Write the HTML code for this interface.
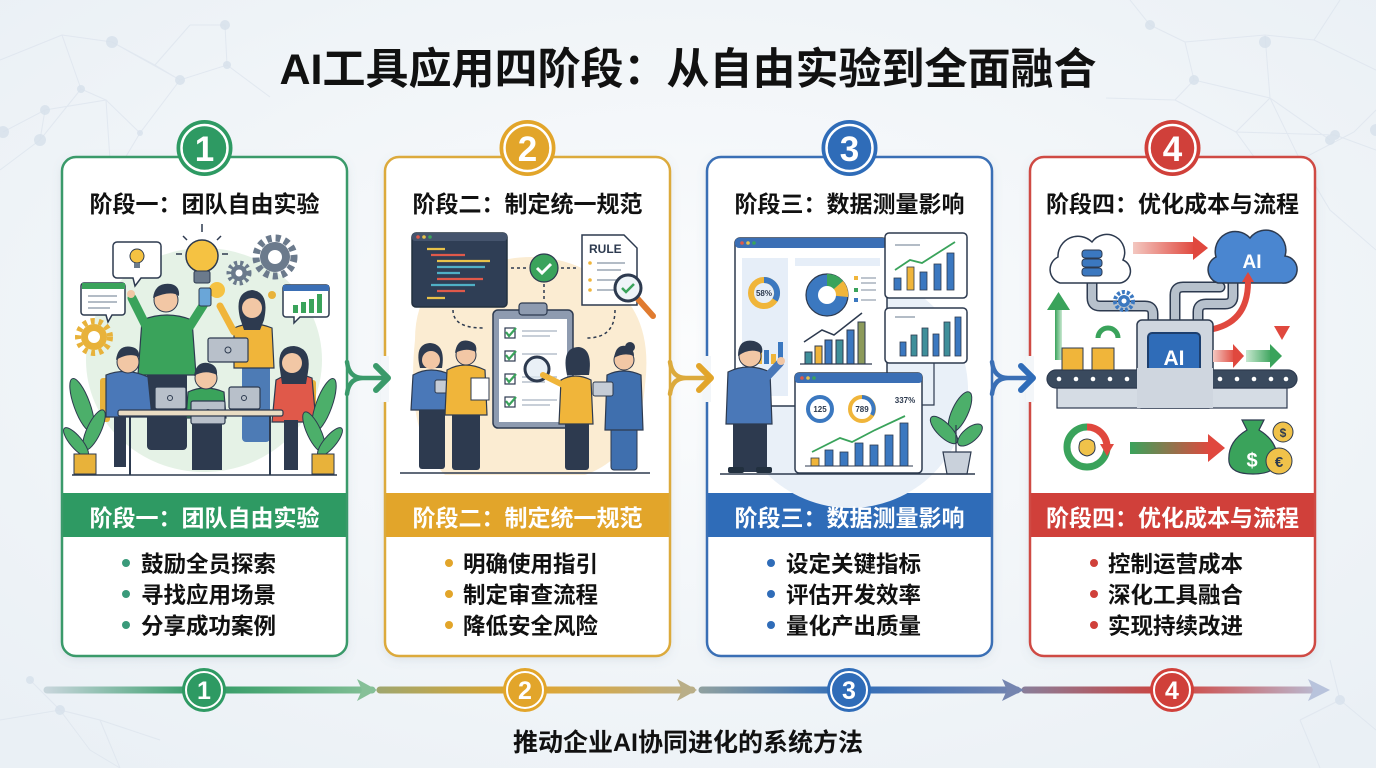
<!DOCTYPE html>
<html><head><meta charset="utf-8"><style>
html,body{margin:0;padding:0;width:1376px;height:768px;overflow:hidden;background:#f3f6f9;}
svg{display:block}
text{font-family:"Liberation Sans","Noto Sans CJK SC",sans-serif;font-weight:700;}
</style></head><body>
<svg width="1376" height="768" viewBox="0 0 1376 768" xmlns="http://www.w3.org/2000/svg">
<defs>
<radialGradient id="bg" cx="50%" cy="45%" r="70%"><stop offset="0" stop-color="#fbfcfd"/><stop offset="1" stop-color="#eaf0f5"/></radialGradient>
<filter id="sh" x="-10%" y="-10%" width="120%" height="120%"><feDropShadow dx="0" dy="3" stdDeviation="5" flood-color="#6a7f95" flood-opacity="0.18"/></filter>
<linearGradient id="tA" gradientUnits="userSpaceOnUse" x1="47" y1="0" x2="377" y2="0"><stop offset="0" stop-color="#c7d5db"/><stop offset="0.47" stop-color="#2e9a63"/><stop offset="1" stop-color="#86c098"/></linearGradient>
<linearGradient id="tB" gradientUnits="userSpaceOnUse" x1="378" y1="0" x2="697" y2="0"><stop offset="0" stop-color="#9fa66e"/><stop offset="0.46" stop-color="#e2a52a"/><stop offset="1" stop-color="#b9ae88"/></linearGradient>
<linearGradient id="tC" gradientUnits="userSpaceOnUse" x1="700" y1="0" x2="1022" y2="0"><stop offset="0" stop-color="#8fa0a0"/><stop offset="0.46" stop-color="#2f6cb8"/><stop offset="1" stop-color="#7585b0"/></linearGradient>
<linearGradient id="tD" gradientUnits="userSpaceOnUse" x1="1025" y1="0" x2="1328" y2="0"><stop offset="0" stop-color="#8a7d98"/><stop offset="0.48" stop-color="#d0403a"/><stop offset="1" stop-color="#b8c3dc"/></linearGradient>
<linearGradient id="rg" x1="0" y1="0" x2="1" y2="0"><stop offset="0" stop-color="#f3c7c0"/><stop offset="1" stop-color="#e0483e"/></linearGradient>
<linearGradient id="gr" x1="0" y1="0" x2="1" y2="0"><stop offset="0" stop-color="#c8e8d0"/><stop offset="1" stop-color="#3aa35b"/></linearGradient>
<linearGradient id="gred" x1="0" y1="0" x2="1" y2="0"><stop offset="0" stop-color="#3aa35b"/><stop offset="1" stop-color="#e0483e"/></linearGradient>
</defs>
<rect width="1376" height="768" fill="url(#bg)"/>

<!-- network background -->
<g stroke="#dbe3ec" stroke-width="1" fill="none" opacity="0.7">
<path d="M0 60 L62 35 L112 42 L180 80 L227 65 L270 97 M62 35 L81 89 L106 100 L45 110 L3 132 M112 42 L155 65 L180 80 M106 100 L140 133 M45 110 L40 140 L0 170 M81 89 L40 140 M180 80 L140 133 M190 25 L225 25 L227 65 M155 65 L190 25 M106 100 L110 160 M140 133 L100 200"/>
<path d="M1150 25 L1185 42 L1265 35 L1314 40 L1376 70 M1185 42 L1194 80 L1175 100 L1106 98 M1194 80 L1270 98 L1330 140 M1265 35 L1270 98 L1300 160 L1354 132 L1376 110 M1270 98 L1236 132 L1335 135 M1175 100 L1236 132 L1260 165 M1300 160 L1330 210 L1376 250 M1335 135 L1376 150 M1150 25 L1130 0 M1314 40 L1340 0"/>
<path d="M0 720 L60 710 L90 750 L120 768 M60 710 L30 680 M60 710 L100 720 L160 740 M100 720 L120 768 M1300 720 L1340 700 L1376 730 M1340 700 L1330 660 M1300 720 L1320 768"/>
</g>
<g fill="#d8e2ec" opacity="0.85">
<circle cx="112" cy="42" r="6"/><circle cx="180" cy="80" r="5"/><circle cx="227" cy="65" r="4"/><circle cx="45" cy="110" r="5"/><circle cx="40" cy="140" r="6"/><circle cx="3" cy="132" r="6"/><circle cx="81" cy="89" r="4"/><circle cx="225" cy="25" r="5"/><circle cx="140" cy="133" r="3"/>
<circle cx="1150" cy="25" r="5"/><circle cx="1265" cy="42" r="6"/><circle cx="1194" cy="80" r="5"/><circle cx="1330" cy="140" r="5"/><circle cx="1335" cy="135" r="5"/><circle cx="1376" cy="130" r="6"/><circle cx="1300" cy="160" r="3"/>
<circle cx="60" cy="710" r="5"/><circle cx="30" cy="680" r="4"/><circle cx="1340" cy="700" r="5"/>
</g>

<!-- Title -->
<text x="688" y="84" text-anchor="middle" font-size="43" font-weight="900" fill="#111">AI工具应用四阶段：从自由实验到全面融合</text>

<!-- Cards -->
<g filter="url(#sh)">
<rect x="62" y="157" width="285" height="499" rx="14" fill="#fff"/>
<rect x="385" y="157" width="285" height="499" rx="14" fill="#fff"/>
<rect x="707" y="157" width="285" height="499" rx="14" fill="#fff"/>
<rect x="1030" y="157" width="285" height="499" rx="14" fill="#fff"/>
</g>
<!-- bands -->
<rect x="62" y="493" width="285" height="44" fill="#2e9a63"/>
<rect x="385" y="493" width="285" height="44" fill="#e2a52a"/>
<rect x="707" y="493" width="285" height="44" fill="#2f6cb8"/>
<rect x="1030" y="493" width="285" height="44" fill="#d0403a"/>
<!-- borders -->
<g fill="none" stroke-width="2.5">
<rect x="62" y="157" width="285" height="499" rx="14" stroke="#3a9a6a"/>
<rect x="385" y="157" width="285" height="499" rx="14" stroke="#dcaa3c"/>
<rect x="707" y="157" width="285" height="499" rx="14" stroke="#3a6fb5"/>
<rect x="1030" y="157" width="285" height="499" rx="14" stroke="#cf4a44"/>
</g>

<!-- ===== Card 1 illustration ===== -->
<g transform="translate(62,220)">
<ellipse cx="142" cy="140" rx="118" ry="112" fill="#e5f2e6"/>
<path d="M55 22 h40 a4 4 0 0 1 4 4 v28 a4 4 0 0 1 -4 4 h-16 l-6 8 l-2 -8 h-16 a4 4 0 0 1 -4 -4 v-28 a4 4 0 0 1 4 -4z" fill="#fff" stroke="#2d3a4f" stroke-width="1.5"/>
<circle cx="75" cy="36" r="7" fill="#f5c242" stroke="#2d3a4f" stroke-width="1"/><rect x="72" y="43" width="6" height="5" fill="#6b7a8c"/>
<circle cx="140" cy="36" r="16" fill="#f5c242" stroke="#2d3a4f" stroke-width="1.5"/>
<rect x="132" y="51" width="16" height="12" rx="2" fill="#6b7a8c" stroke="#2d3a4f" stroke-width="1"/>
<g stroke="#2d3a4f" stroke-width="1.5"><line x1="140" y1="4" x2="140" y2="12"/><line x1="114" y1="34" x2="120" y2="34"/><line x1="160" y1="34" x2="166" y2="34"/><line x1="121" y1="16" x2="125" y2="20"/><line x1="159" y1="16" x2="155" y2="20"/></g>
<circle cx="213" cy="37" r="19" fill="none" stroke="#6b7a8c" stroke-width="7" stroke-dasharray="5 4"/>
<circle cx="213" cy="37" r="15" fill="#6b7a8c"/><circle cx="213" cy="37" r="7" fill="#fff"/>
<circle cx="177" cy="53" r="10" fill="none" stroke="#6b7a8c" stroke-width="5" stroke-dasharray="3 3"/><circle cx="177" cy="53" r="8" fill="#6b7a8c"/><circle cx="177" cy="53" r="3.5" fill="#fff"/>
<circle cx="32" cy="117" r="16" fill="none" stroke="#e8b23a" stroke-width="6" stroke-dasharray="4 4"/><circle cx="32" cy="117" r="13" fill="#e8b23a"/><circle cx="32" cy="117" r="6" fill="#fff"/>
<circle cx="155" cy="70" r="8" fill="#f5c242"/>
<circle cx="210" cy="75" r="4" fill="#e8b23a"/>
<path d="M22 63 h38 a3 3 0 0 1 3 3 v26 a3 3 0 0 1 -3 3 h-10 l-4 7 l-2 -7 h-22 a3 3 0 0 1 -3 -3 v-26 a3 3 0 0 1 3 -3z" fill="#fff" stroke="#2d3a4f" stroke-width="1.5"/>
<rect x="20" y="63" width="43" height="6" fill="#3aa35b"/>
<g stroke="#9aa6b4" stroke-width="1.5"><line x1="26" y1="76" x2="55" y2="76"/><line x1="26" y1="82" x2="55" y2="82"/><line x1="26" y1="88" x2="48" y2="88"/></g>
<path d="M224 65 h40 a3 3 0 0 1 3 3 v26 a3 3 0 0 1 -3 3 h-26 l-6 6 v-6 h-8 a3 3 0 0 1 -3 -3 v-26 a3 3 0 0 1 3 -3z" fill="#fff" stroke="#2d3a4f" stroke-width="1.5"/>
<rect x="221" y="65" width="46" height="6" fill="#3b6fb5"/>
<g fill="#3aa35b"><rect x="231" y="85" width="5" height="8"/><rect x="239" y="82" width="5" height="11"/><rect x="247" y="79" width="5" height="14"/><rect x="255" y="74" width="5" height="19"/></g>
<rect x="85" y="150" width="40" height="80" rx="4" fill="#2d3a4f"/>
<path d="M80 100 q25 -10 50 0 l4 55 h-58z" fill="#3aa35b" stroke="#2d3a4f" stroke-width="1.2"/>
<path d="M84 106 L70 78" stroke="#3aa35b" stroke-width="9" stroke-linecap="round"/>
<circle cx="69" cy="74" r="4" fill="#f2c7a5"/>
<path d="M128 106 L142 84" stroke="#3aa35b" stroke-width="9" stroke-linecap="round"/>
<rect x="137" y="68" width="12" height="18" rx="2" fill="#6aa6d8" stroke="#2d3a4f" stroke-width="1"/>
<circle cx="104" cy="80" r="12" fill="#f2c7a5" stroke="#2d3a4f" stroke-width="1"/>
<path d="M91 78 q2 -16 18 -14 q9 2 8 12 q-8 -6 -26 2z" fill="#2d3a4f"/>
<rect x="180" y="140" width="28" height="82" rx="4" fill="#4d7bb5"/>
<path d="M172 108 q18 -8 38 0 l2 40 h-40z" fill="#f0b53a" stroke="#2d3a4f" stroke-width="1.2"/>
<path d="M178 98 q-6 -26 12 -28 q18 2 12 30 l-4 10 h-16z" fill="#2d3a4f"/>
<circle cx="190" cy="88" r="10" fill="#f2c7a5"/>
<path d="M172 112 L158 86" stroke="#f0b53a" stroke-width="7" stroke-linecap="round"/>
<rect x="146" y="118" width="40" height="24" rx="2" fill="#b8c0ca" stroke="#2d3a4f" stroke-width="1.2"/>
<circle cx="166" cy="130" r="3" fill="none" stroke="#2d3a4f"/>
<rect x="38" y="158" width="10" height="44" rx="3" fill="#e8b23a"/>
<rect x="244" y="160" width="10" height="44" rx="3" fill="#e8b23a"/>
<path d="M44 155 q20 -8 42 2 l4 40 h-46z" fill="#4a78b8" stroke="#2d3a4f" stroke-width="1.2"/>
<circle cx="66" cy="142" r="11" fill="#f2c7a5" stroke="#2d3a4f" stroke-width="1"/>
<path d="M54 140 q2 -16 16 -13 q8 2 7 10 q-10 -5 -23 3z" fill="#2d3a4f"/>
<path d="M214 160 q16 -10 36 -2 l4 44 h-44z" fill="#e0594a" stroke="#2d3a4f" stroke-width="1.2"/>
<path d="M218 150 q-4 -24 14 -24 q18 2 14 26 l-2 12 h-24z" fill="#2d3a4f"/>
<circle cx="230" cy="143" r="10" fill="#f2c7a5"/>
<path d="M126 172 q17 -8 36 0 l2 26 h-40z" fill="#3aa35b" stroke="#2d3a4f" stroke-width="1.2"/>
<circle cx="144" cy="158" r="11" fill="#f2c7a5" stroke="#2d3a4f" stroke-width="1"/>
<path d="M132 156 q2 -15 14 -13 q10 2 9 12 q-12 -6 -23 1z" fill="#2d3a4f"/>
<g fill="#b8c0ca" stroke="#2d3a4f" stroke-width="1.2">
<rect x="93" y="167" width="31" height="22" rx="2"/><rect x="167" y="167" width="31" height="22" rx="2"/><rect x="129" y="181" width="34" height="23" rx="2"/>
</g>
<g fill="none" stroke="#2d3a4f"><circle cx="108" cy="178" r="2.5"/><circle cx="182" cy="178" r="2.5"/><circle cx="146" cy="192" r="2.5"/></g>
<rect x="56" y="190" width="165" height="6" rx="2" fill="#e9dcc3" stroke="#2d3a4f" stroke-width="1.2"/>
<g stroke="#2d3a4f" stroke-width="2"><line x1="68" y1="196" x2="68" y2="255"/><line x1="208" y1="196" x2="208" y2="255"/></g>
<rect x="52" y="197" width="12" height="50" fill="#2d3a4f"/><rect x="130" y="204" width="30" height="46" fill="#2d3a4f"/><rect x="222" y="200" width="14" height="50" fill="#2d3a4f"/>
<g fill="#4caf6a" stroke="#2d3a4f" stroke-width="1">
<ellipse cx="20" cy="185" rx="8" ry="28" transform="rotate(-20 20 185)"/><ellipse cx="32" cy="210" rx="7" ry="22" transform="rotate(25 32 210)"/><ellipse cx="14" cy="222" rx="6" ry="18" transform="rotate(-40 14 222)"/>
<ellipse cx="262" cy="185" rx="8" ry="28" transform="rotate(20 262 185)"/><ellipse cx="252" cy="212" rx="7" ry="22" transform="rotate(-25 252 212)"/><ellipse cx="268" cy="222" rx="6" ry="18" transform="rotate(40 268 222)"/>
</g>
<rect x="12" y="234" width="22" height="20" fill="#e8b23a" stroke="#2d3a4f" stroke-width="1"/>
<rect x="250" y="234" width="22" height="20" fill="#e8b23a" stroke="#2d3a4f" stroke-width="1"/>
<line x1="10" y1="255" x2="275" y2="255" stroke="#2d3a4f" stroke-width="1.5"/>
</g>

<!-- ===== Card 2 illustration ===== -->
<g transform="translate(385,220)">
<path d="M30 120 q0 -70 70 -75 q60 -20 110 10 q60 30 50 110 q-5 70 -60 90 h-140 q-40 -40 -30 -135z" fill="#fbecd2"/>
<rect x="27" y="13" width="95" height="74" rx="4" fill="#2f3e55" stroke="#22303f" stroke-width="1.5"/>
<rect x="27" y="13" width="95" height="8" rx="3" fill="#45546d"/>
<circle cx="33" cy="17" r="1.8" fill="#e0594a"/><circle cx="39" cy="17" r="1.8" fill="#e8c24a"/><circle cx="45" cy="17" r="1.8" fill="#3aa35b"/>
<g stroke-width="2.2">
<line x1="42" y1="29" x2="60" y2="29" stroke="#e8c24a"/><line x1="46" y1="35" x2="80" y2="35" stroke="#e0594a"/><line x1="52" y1="41" x2="105" y2="41" stroke="#e8c24a"/><line x1="52" y1="47" x2="100" y2="47" stroke="#4fb0c6"/><line x1="52" y1="53" x2="75" y2="53" stroke="#4fb0c6"/><line x1="52" y1="59" x2="98" y2="59" stroke="#e0594a"/><line x1="46" y1="65" x2="90" y2="65" stroke="#4fb0c6"/><line x1="52" y1="71" x2="80" y2="71" stroke="#e0594a"/><line x1="42" y1="78" x2="60" y2="78" stroke="#e8c24a"/>
</g>
<g stroke="#2d3a4f" stroke-width="1.5" fill="none" stroke-dasharray="3 3">
<line x1="126" y1="48" x2="142" y2="48"/><line x1="176" y1="48" x2="191" y2="48"/><line x1="159" y1="64" x2="159" y2="80"/>
<path d="M68 90 q0 18 30 18"/><path d="M230 90 q0 28 -28 28"/>
</g>
<circle cx="159" cy="48" r="14" fill="#3aa35b" stroke="#2d3a4f" stroke-width="1.2"/>
<path d="M152 48 l5 5 l9 -9" stroke="#fff" stroke-width="3" fill="none"/>
<path d="M197 15 h42 l13 13 v57 h-55z" fill="#fff" stroke="#2d3a4f" stroke-width="1.5"/>
<text x="204" y="33" font-size="12" fill="#2d3a4f">RULE</text>
<g stroke="#9aa6b4" stroke-width="1.5"><line x1="212" y1="43" x2="240" y2="43"/><line x1="212" y1="50" x2="236" y2="50"/><line x1="212" y1="60" x2="232" y2="60"/><line x1="212" y1="70" x2="230" y2="70"/></g>
<g fill="#f0b53a"><circle cx="205" cy="43" r="1.8"/><circle cx="205" cy="60" r="1.8"/><circle cx="205" cy="70" r="1.8"/></g>
<line x1="252" y1="78" x2="268" y2="96" stroke="#e07b30" stroke-width="6" stroke-linecap="round"/>
<circle cx="243" cy="68" r="13" fill="#eef4f8" stroke="#2d3a4f" stroke-width="3"/>
<path d="M237 68 l4 4 l8 -8" stroke="#3aa35b" stroke-width="2.5" fill="none"/>
<rect x="108" y="90" width="80" height="118" rx="5" fill="#8e9bb0" stroke="#2d3a4f" stroke-width="1.5"/>
<rect x="114" y="99" width="68" height="103" fill="#fff"/>
<rect x="134" y="83" width="28" height="12" rx="3" fill="#8e9bb0" stroke="#2d3a4f" stroke-width="1.2"/>
<g fill="#fff" stroke="#2d3a4f" stroke-width="1.2"><rect x="120" y="108" width="10" height="10"/><rect x="120" y="131" width="10" height="10"/><rect x="120" y="154" width="10" height="10"/><rect x="120" y="177" width="10" height="10"/></g>
<g stroke="#3aa35b" stroke-width="2.2" fill="none"><path d="M121 112 l3 4 l7 -8"/><path d="M121 135 l3 4 l7 -8"/><path d="M121 158 l3 4 l7 -8"/><path d="M121 181 l3 4 l7 -8"/></g>
<g stroke="#b5bfcb" stroke-width="1.5"><line x1="137" y1="111" x2="172" y2="111"/><line x1="137" y1="116" x2="165" y2="116"/><line x1="137" y1="134" x2="172" y2="134"/><line x1="137" y1="157" x2="172" y2="157"/><line x1="137" y1="162" x2="160" y2="162"/><line x1="137" y1="180" x2="172" y2="180"/><line x1="137" y1="185" x2="165" y2="185"/></g>
<circle cx="152" cy="149" r="12" fill="#dfe9f2" fill-opacity="0.7" stroke="#2d3a4f" stroke-width="3"/>
<rect x="34" y="185" width="26" height="64" rx="3" fill="#2d3a4f"/>
<path d="M28 155 q18 -10 38 0 l2 35 h-42z" fill="#4a78b8" stroke="#2d3a4f" stroke-width="1.2"/>
<path d="M35 148 q-6 -24 10 -25 q16 1 12 25z" fill="#2d3a4f"/><circle cx="46" cy="140" r="9" fill="#f2c7a5"/>
<rect x="50" y="160" width="18" height="13" rx="2" fill="#c5ccd6" stroke="#2d3a4f" stroke-width="1"/>
<rect x="67" y="190" width="28" height="60" rx="3" fill="#2d3a4f"/>
<path d="M62 150 q18 -10 38 0 l2 45 h-42z" fill="#f0b53a" stroke="#2d3a4f" stroke-width="1.2"/>
<circle cx="81" cy="135" r="10" fill="#f2c7a5" stroke="#2d3a4f" stroke-width="1"/>
<path d="M70 133 q2 -15 14 -12 q9 2 7 11 q-10 -5 -21 1z" fill="#2d3a4f"/>
<rect x="86" y="158" width="18" height="22" fill="#fff" stroke="#2d3a4f" stroke-width="1"/>
<rect x="180" y="200" width="24" height="50" rx="3" fill="#2d3a4f"/>
<path d="M176 160 q14 -8 30 0 l2 44 h-34z" fill="#f0b53a" stroke="#2d3a4f" stroke-width="1.2"/>
<path d="M182 155 q-6 -28 12 -28 q14 2 10 28z" fill="#2d3a4f"/>
<path d="M178 165 L158 155" stroke="#f0b53a" stroke-width="6" stroke-linecap="round"/>
<rect x="226" y="205" width="26" height="45" rx="3" fill="#3f6fae" stroke="#2d3a4f" stroke-width="1"/>
<path d="M222 155 q16 -8 34 0 l2 55 h-38z" fill="#3f6fae" stroke="#2d3a4f" stroke-width="1.2"/>
<circle cx="239" cy="140" r="10" fill="#f2c7a5" stroke="#2d3a4f" stroke-width="1"/>
<path d="M229 138 q2 -14 12 -12 q8 2 8 10 q-10 -4 -20 2z" fill="#2d3a4f"/><circle cx="245" cy="127" r="5" fill="#2d3a4f"/>
<rect x="208" y="162" width="20" height="14" rx="2" fill="#c5ccd6" stroke="#2d3a4f" stroke-width="1"/>
<line x1="15" y1="253" x2="265" y2="253" stroke="#2d3a4f" stroke-width="1.5"/>
</g>

<!-- ===== Card 3 illustration ===== -->
<g transform="translate(700,220)">
<circle cx="150" cy="170" r="118" fill="#e9f0f8"/>
<rect x="35" y="18" width="152" height="168" rx="5" fill="#fff" stroke="#2d3a4f" stroke-width="1.5"/>
<rect x="35" y="18" width="152" height="10" rx="4" fill="#3b6fb5"/>
<circle cx="42" cy="23" r="1.8" fill="#e0594a"/><circle cx="48" cy="23" r="1.8" fill="#e8c24a"/><circle cx="54" cy="23" r="1.8" fill="#3aa35b"/>
<rect x="42" y="38" width="46" height="138" fill="#e6eef8"/>
<rect x="95" y="38" width="85" height="8" fill="#e6eef8"/>
<circle cx="64" cy="73" r="13" fill="none" stroke="#f0b53a" stroke-width="6"/>
<path d="M64 60 a13 13 0 0 1 11 20" fill="none" stroke="#3b78c0" stroke-width="6"/>
<text x="64" y="76" text-anchor="middle" font-size="8" fill="#2d3a4f">58%</text>
<g fill="#f0b53a"><rect x="57" y="128" width="5" height="16"/><rect x="71" y="134" width="5" height="10"/></g><g fill="#3b78c0"><rect x="64" y="130" width="5" height="14"/><rect x="78" y="122" width="5" height="22"/></g>
<circle cx="127" cy="75" r="21" fill="#3b78c0" stroke="#2d3a4f" stroke-width="1.2"/>
<path d="M127 75 L127 54 A21 21 0 0 1 143 61z" fill="#3aa35b"/><path d="M127 75 L143 61 A21 21 0 0 1 148 77z" fill="#f0b53a"/>
<circle cx="127" cy="75" r="9" fill="#fff"/>
<g fill="#f0b53a"><rect x="154" y="56" width="4" height="4"/></g><g fill="#3aa35b"><rect x="154" y="68" width="4" height="4"/></g><g fill="#3b78c0"><rect x="154" y="78" width="4" height="4"/></g>
<g stroke="#9aa6b4" stroke-width="1.3"><line x1="161" y1="58" x2="176" y2="58"/><line x1="161" y1="63" x2="176" y2="63"/><line x1="161" y1="70" x2="176" y2="70"/><line x1="161" y1="80" x2="176" y2="80"/></g>
<g stroke="#2d3a4f" stroke-width="1"><rect x="105" y="132" width="7" height="12" fill="#3f8f9a"/><rect x="115" y="126" width="7" height="18" fill="#f0b53a"/><rect x="125" y="120" width="7" height="24" fill="#3b78c0"/><rect x="136" y="120" width="7" height="24" fill="#3f8f9a"/><rect x="147" y="110" width="7" height="34" fill="#3b78c0"/><rect x="158" y="102" width="7" height="42" fill="#8c9a5a"/></g>
<path d="M104 122 L122 110 L134 115 L162 93" stroke="#2d3a4f" stroke-width="1.5" fill="none"/>
<line x1="100" y1="144" x2="172" y2="144" stroke="#2d3a4f" stroke-width="1.2"/>
<rect x="185" y="13" width="82" height="65" rx="4" fill="#fff" stroke="#2d3a4f" stroke-width="1.5"/>
<g stroke="#2d3a4f" stroke-width="0.8"><rect x="194" y="58" width="7" height="12" fill="#3b78c0"/><rect x="207" y="47" width="7" height="23" fill="#f0b53a"/><rect x="220" y="52" width="7" height="18" fill="#3b78c0"/><rect x="234" y="44" width="7" height="26" fill="#3b78c0"/><rect x="247" y="33" width="7" height="37" fill="#3b78c0"/></g>
<path d="M195 50 L210 40 L222 43 L255 22" stroke="#3aa35b" stroke-width="1.8" fill="none"/>
<line x1="195" y1="25" x2="220" y2="25" stroke="#9aa6b4" stroke-width="1.5"/>
<rect x="185" y="88" width="82" height="55" rx="4" fill="#fff" stroke="#2d3a4f" stroke-width="1.5"/>
<g stroke="#2d3a4f" stroke-width="0.8"><rect x="200" y="122" width="6" height="14" fill="#3b78c0"/><rect x="211" y="115" width="6" height="21" fill="#3f8f9a"/><rect x="222" y="108" width="6" height="28" fill="#3f8f9a"/><rect x="233" y="114" width="6" height="22" fill="#3b78c0"/><rect x="244" y="102" width="6" height="34" fill="#3f8f9a"/><rect x="255" y="97" width="6" height="39" fill="#3b78c0"/></g>
<line x1="195" y1="97" x2="215" y2="97" stroke="#9aa6b4" stroke-width="1.5"/>
<path d="M234 143 V185 h-12" stroke="#2d3a4f" stroke-width="1.2" fill="none"/>
<rect x="95" y="153" width="127" height="100" rx="4" fill="#fff" stroke="#2d3a4f" stroke-width="1.5"/>
<rect x="95" y="153" width="127" height="10" rx="3" fill="#3b6fb5"/>
<circle cx="102" cy="158" r="1.8" fill="#e0594a"/><circle cx="108" cy="158" r="1.8" fill="#e8c24a"/><circle cx="114" cy="158" r="1.8" fill="#3aa35b"/>
<circle cx="120" cy="189" r="12" fill="none" stroke="#3b78c0" stroke-width="4"/>
<text x="120" y="192" text-anchor="middle" font-size="8" fill="#2d3a4f">125</text>
<circle cx="162" cy="189" r="12" fill="none" stroke="#f0b53a" stroke-width="4"/>
<path d="M162 177 a12 12 0 0 1 10 18" fill="none" stroke="#3b78c0" stroke-width="4"/>
<text x="162" y="192" text-anchor="middle" font-size="8" fill="#2d3a4f">789</text>
<text x="205" y="183" text-anchor="middle" font-size="8" fill="#2d3a4f">337%</text>
<g stroke="#2d3a4f" stroke-width="0.8"><rect x="111" y="238" width="8" height="8" fill="#f0b53a"/><rect x="125" y="230" width="8" height="16" fill="#3b78c0"/><rect x="140" y="232" width="8" height="14" fill="#3b78c0"/><rect x="155" y="223" width="8" height="23" fill="#3b78c0"/><rect x="170" y="225" width="8" height="21" fill="#3b78c0"/><rect x="185" y="215" width="8" height="31" fill="#3b78c0"/><rect x="200" y="203" width="8" height="43" fill="#3b78c0"/></g>
<path d="M112 232 L140 218 L152 222 L175 210 L205 196" stroke="#3aa35b" stroke-width="1.8" fill="none"/>
<line x1="105" y1="246" x2="213" y2="246" stroke="#2d3a4f" stroke-width="1"/>
<rect x="33" y="198" width="34" height="54" rx="3" fill="#2d3a4f"/>
<path d="M28 152 q20 -10 42 0 l2 52 h-46z" fill="#4a78b8" stroke="#2d3a4f" stroke-width="1.2"/>
<path d="M64 160 L80 143" stroke="#4a78b8" stroke-width="8" stroke-linecap="round"/>
<circle cx="81" cy="141" r="4" fill="#f2c7a5"/>
<circle cx="50" cy="136" r="11" fill="#f2c7a5" stroke="#2d3a4f" stroke-width="1"/>
<path d="M38 136 q0 -18 16 -15 q10 3 8 12 q-12 -6 -24 3z" fill="#2d3a4f"/>
<rect x="28" y="247" width="16" height="6" rx="2" fill="#22303f"/><rect x="56" y="247" width="16" height="6" rx="2" fill="#22303f"/>
<g fill="#4caf6a" stroke="#2d3a4f" stroke-width="1">
<ellipse cx="260" cy="192" rx="8" ry="22" transform="rotate(25 260 192)"/><ellipse cx="244" cy="210" rx="7" ry="18" transform="rotate(-45 244 210)"/><ellipse cx="270" cy="215" rx="7" ry="15" transform="rotate(50 270 215)"/>
</g>
<line x1="256" y1="205" x2="256" y2="232" stroke="#2d3a4f" stroke-width="1.2"/>
<path d="M243 232 h28 l-4 22 h-20z" fill="#c9d1db" stroke="#2d3a4f" stroke-width="1.2"/>
<line x1="20" y1="254" x2="275" y2="254" stroke="#2d3a4f" stroke-width="1.5"/>
</g>

<!-- ===== Card 4 illustration ===== -->
<g transform="translate(1020,220)">
<g fill="none" stroke-linecap="round" stroke-linejoin="round">
<path d="M72 62 V78 q0 8 8 8 H125 q8 0 8 8 V104" stroke="#2d3a4f" stroke-width="11"/>
<path d="M72 62 V78 q0 8 8 8 H125 q8 0 8 8 V104" stroke="#b7c1cc" stroke-width="8"/>
<path d="M155 104 V75 q0 -8 8 -8 H200" stroke="#2d3a4f" stroke-width="11"/>
<path d="M155 104 V75 q0 -8 8 -8 H200" stroke="#b7c1cc" stroke-width="8"/>
<path d="M178 104 V92 q0 -8 8 -8 H205 q8 0 8 -8 V62" stroke="#2d3a4f" stroke-width="11"/>
<path d="M178 104 V92 q0 -8 8 -8 H205 q8 0 8 -8 V62" stroke="#b7c1cc" stroke-width="8"/>
</g>
<circle cx="104" cy="81" r="9" fill="none" stroke="#3b78c0" stroke-width="4" stroke-dasharray="3 2"/><circle cx="104" cy="81" r="6" fill="#3b78c0"/><circle cx="104" cy="81" r="2.5" fill="#fff"/>
<path d="M40 63 A14 14 0 0 1 38 37 A20 20 0 0 1 72 22 A18 18 0 0 1 103 40 A12 12 0 0 1 100 63 Z" fill="#fff" stroke="#2d3a4f" stroke-width="1.5"/>
<g fill="#3b78c0" stroke="#2d3a4f" stroke-width="1"><rect x="62" y="30" width="20" height="8" rx="3"/><rect x="62" y="39" width="20" height="8" rx="3"/><rect x="62" y="48" width="20" height="8" rx="3"/></g>
<rect x="113" y="22" width="62" height="12" fill="url(#rg)"/><path d="M173 16 L188 28 L173 40z" fill="#e0483e"/>
<path d="M198 63 A14 14 0 0 1 196 37 A20 20 0 0 1 230 18 A20 20 0 0 1 265 36 A13 13 0 0 1 262 63 Z" fill="#4a86d0" stroke="#2d3a4f" stroke-width="1.5"/>
<text x="232" y="48" text-anchor="middle" font-size="19" fill="#fff">AI</text>
<rect x="35" y="88" width="7" height="52" fill="url(#gr)" transform="rotate(180 38.5 114)"/><path d="M27 90 L38.5 72 L50 90z" fill="#3aa35b"/>
<path d="M78 118 a10 10 0 0 1 20 0" fill="none" stroke="#3aa35b" stroke-width="5"/>
<path d="M228 62 q0 42 -40 48" stroke="#e0483e" stroke-width="6" fill="none"/>
<path d="M192 102 L180 110 L192 118z" fill="#e0483e"/>
<path d="M222 62 L228 52 L234 62z" fill="#e0483e"/>
<path d="M262 70 V108" stroke="url(#rg)" stroke-width="7"/>
<path d="M254 106 L262 120 L270 106z" fill="#e0483e"/>
<rect x="117" y="100" width="76" height="88" rx="5" fill="#cfd6df" stroke="#2d3a4f" stroke-width="1.5"/>
<rect x="128" y="113" width="52" height="44" rx="4" fill="#2f6cb8" stroke="#1d3f6e" stroke-width="2"/>
<text x="154" y="145" text-anchor="middle" font-size="21" fill="#fff">AI</text>
<rect x="134" y="164" width="14" height="3" fill="#e0594a"/><rect x="152" y="164" width="24" height="3" fill="#3aa35b"/>
<rect x="37" y="168" width="230" height="20" fill="#d5dce4" stroke="#2d3a4f" stroke-width="1.2"/>
<rect x="27" y="150" width="250" height="18" rx="9" fill="#3a4a5e" stroke="#2d3a4f" stroke-width="1.2"/>
<g fill="#fff"><circle cx="39" cy="159" r="2.3"/><circle cx="56" cy="159" r="2.3"/><circle cx="73" cy="159" r="2.3"/><circle cx="90" cy="159" r="2.3"/><circle cx="107" cy="159" r="2.3"/><circle cx="200" cy="159" r="2.3"/><circle cx="217" cy="159" r="2.3"/><circle cx="234" cy="159" r="2.3"/><circle cx="251" cy="159" r="2.3"/><circle cx="266" cy="159" r="2.3"/></g>
<rect x="117" y="148" width="76" height="40" fill="#cfd6df"/>
<g fill="#f0b53a" stroke="#2d3a4f" stroke-width="1"><rect x="42" y="128" width="21" height="22"/><rect x="72" y="128" width="22" height="22"/></g>
<rect x="193" y="130" width="22" height="12" fill="url(#rg)"/><path d="M213 124 L224 136 L213 148z" fill="#e0483e"/>
<rect x="226" y="130" width="26" height="12" fill="url(#gr)"/><path d="M250 124 L262 136 L250 148z" fill="#3aa35b"/>
<path d="M67 207 a20 20 0 1 0 20 20" fill="none" stroke="#3aa35b" stroke-width="7"/>
<path d="M67 207 a20 20 0 0 1 20 20" fill="none" stroke="#e0483e" stroke-width="7"/>
<path d="M80 224 L87 236 L94 224z" fill="#e0483e"/>
<path d="M60 222 q7 -6 14 0 q4 12 -7 14 q-11 -2 -7 -14z" fill="#f0c24a" stroke="#2d3a4f" stroke-width="1"/>
<rect x="110" y="222" width="80" height="12" fill="url(#gred)"/><path d="M188 214 L205 228 L188 242z" fill="#e0483e"/>
<path d="M222 200 h22 l-5 10 q20 12 18 32 q-2 12 -24 12 q-22 0 -24 -12 q-2 -20 18 -32z" fill="#3aa35b" stroke="#2d3a4f" stroke-width="1.2"/>
<text x="232" y="247" text-anchor="middle" font-size="20" fill="#fff">$</text>
<circle cx="263" cy="212" r="10" fill="#f0c24a" stroke="#2d3a4f" stroke-width="1"/><text x="263" y="217" text-anchor="middle" font-size="12" fill="#2d3a4f">$</text>
<circle cx="259" cy="241" r="13" fill="#f0c24a" stroke="#2d3a4f" stroke-width="1"/><text x="259" y="247" text-anchor="middle" font-size="15" fill="#2d3a4f">€</text>
</g>

<!-- connector arrows between cards -->
<g fill="none" stroke-width="4.5" stroke-linecap="round" stroke-linejoin="round">
<rect x="381" y="356" width="8" height="46" fill="#f3f6f9" stroke="none"/>
<rect x="703" y="356" width="8" height="46" fill="#f3f6f9" stroke="none"/>
<rect x="1026" y="356" width="8" height="46" fill="#f3f6f9" stroke="none"/>
<path d="M347 362 q2 16 16 16 H385 M347 394 q2 -16 16 -16" stroke="#3a9a6a"/>
<path d="M376 366 L388 378 L376 390" stroke="#3a9a6a" stroke-width="6"/>
<path d="M670 362 q2 16 16 16 H708 M670 394 q2 -16 16 -16" stroke="#dcaa3c"/>
<path d="M699 366 L711 378 L699 390" stroke="#e2a52a" stroke-width="6"/>
<path d="M992 362 q2 16 16 16 H1031 M992 394 q2 -16 16 -16" stroke="#3a6fb5"/>
<path d="M1021 366 L1033 378 L1021 390" stroke="#2f6cb8" stroke-width="6"/>
</g>

<!-- number badges top -->
<g>
<circle cx="204.5" cy="148" r="28" fill="#2e9a63"/><circle cx="204.5" cy="148" r="23" fill="none" stroke="#fff" stroke-width="2.5"/>
<text x="204.5" y="161" text-anchor="middle" font-size="35" fill="#fff">1</text>
<circle cx="527.5" cy="148" r="28" fill="#e2a52a"/><circle cx="527.5" cy="148" r="23" fill="none" stroke="#fff" stroke-width="2.5"/>
<text x="527.5" y="161" text-anchor="middle" font-size="35" fill="#fff">2</text>
<circle cx="849.5" cy="148" r="28" fill="#2f6cb8"/><circle cx="849.5" cy="148" r="23" fill="none" stroke="#fff" stroke-width="2.5"/>
<text x="849.5" y="161" text-anchor="middle" font-size="35" fill="#fff">3</text>
<circle cx="1172.5" cy="148" r="28" fill="#d0403a"/><circle cx="1172.5" cy="148" r="23" fill="none" stroke="#fff" stroke-width="2.5"/>
<text x="1172.5" y="161" text-anchor="middle" font-size="35" fill="#fff">4</text>
</g>

<!-- card titles -->
<g font-size="23" fill="#111" text-anchor="middle">
<text x="204.5" y="212">阶段一：团队自由实验</text>
<text x="527.5" y="212">阶段二：制定统一规范</text>
<text x="849.5" y="212">阶段三：数据测量影响</text>
<text x="1172.5" y="212">阶段四：优化成本与流程</text>
</g>
<!-- band texts -->
<g font-size="23" fill="#fff" text-anchor="middle">
<text x="204.5" y="526">阶段一：团队自由实验</text>
<text x="527.5" y="526">阶段二：制定统一规范</text>
<text x="849.5" y="526">阶段三：数据测量影响</text>
<text x="1172.5" y="526">阶段四：优化成本与流程</text>
</g>
<!-- bullets -->
<g font-size="22.5" fill="#111">
<text x="141" y="572">鼓励全员探索</text><text x="141" y="603">寻找应用场景</text><text x="141" y="634">分享成功案例</text>
<text x="463" y="572">明确使用指引</text><text x="463" y="603">制定审查流程</text><text x="463" y="634">降低安全风险</text>
<text x="786" y="572">设定关键指标</text><text x="786" y="603">评估开发效率</text><text x="786" y="634">量化产出质量</text>
<text x="1108" y="572">控制运营成本</text><text x="1108" y="603">深化工具融合</text><text x="1108" y="634">实现持续改进</text>
</g>
<g>
<g fill="#3a9a7a"><circle cx="126" cy="563" r="4"/><circle cx="126" cy="594" r="4"/><circle cx="126" cy="625" r="4"/></g>
<g fill="#e2a52a"><circle cx="449" cy="563" r="4"/><circle cx="449" cy="594" r="4"/><circle cx="449" cy="625" r="4"/></g>
<g fill="#2f6cb8"><circle cx="771" cy="563" r="4"/><circle cx="771" cy="594" r="4"/><circle cx="771" cy="625" r="4"/></g>
<g fill="#d0403a"><circle cx="1094" cy="563" r="4"/><circle cx="1094" cy="594" r="4"/><circle cx="1094" cy="625" r="4"/></g>
</g>

<!-- bottom timeline -->
<g stroke-linecap="round">
<line x1="47" y1="690" x2="372" y2="690" stroke="url(#tA)" stroke-width="7"/>
<line x1="380" y1="690" x2="692" y2="690" stroke="url(#tB)" stroke-width="7"/>
<line x1="702" y1="690" x2="1017" y2="690" stroke="url(#tC)" stroke-width="7"/>
<line x1="1025" y1="690" x2="1322" y2="690" stroke="url(#tD)" stroke-width="7"/>
</g>
<g>
<path d="M357 679 L377 690 L357 701 L362 690z" fill="#86c098"/>
<path d="M677 679 L697 690 L677 701 L682 690z" fill="#b9ae88"/>
<path d="M1002 679 L1024 690 L1002 701 L1007 690z" fill="#7585b0"/>
<path d="M1308 679 L1330 690 L1308 701 L1313 690z" fill="#b8c3dc"/>
</g>
<g>
<circle cx="204" cy="690" r="22" fill="#2e9a63"/><circle cx="204" cy="690" r="18" fill="none" stroke="#fff" stroke-width="2"/>
<text x="204" y="699" text-anchor="middle" font-size="25" fill="#fff">1</text>
<circle cx="525" cy="690" r="22" fill="#e2a52a"/><circle cx="525" cy="690" r="18" fill="none" stroke="#fff" stroke-width="2"/>
<text x="525" y="699" text-anchor="middle" font-size="25" fill="#fff">2</text>
<circle cx="849" cy="690" r="22" fill="#2f6cb8"/><circle cx="849" cy="690" r="18" fill="none" stroke="#fff" stroke-width="2"/>
<text x="849" y="699" text-anchor="middle" font-size="25" fill="#fff">3</text>
<circle cx="1172" cy="690" r="22" fill="#d0403a"/><circle cx="1172" cy="690" r="18" fill="none" stroke="#fff" stroke-width="2"/>
<text x="1172" y="699" text-anchor="middle" font-size="25" fill="#fff">4</text>
</g>
<text x="688" y="751" text-anchor="middle" font-size="25" fill="#111">推动企业AI协同进化的系统方法</text>
</svg>
</body></html>
